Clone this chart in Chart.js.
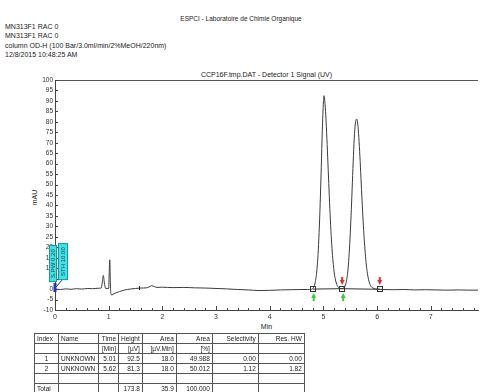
<!DOCTYPE html>
<html>
<head>
<meta charset="utf-8">
<script src="https://cdn.jsdelivr.net/npm/chart.js@4/dist/chart.umd.min.js"></script>
<style>
body { margin: 0; width: 482px; height: 392px; overflow: hidden; background: #fff; position: relative;
       font-family: "Liberation Sans", Arial, sans-serif; color: #222; }
.t { position: absolute; font-size: 7px; line-height: 7px; white-space: nowrap; }
#wrap { position: absolute; left: 0; top: 0; width: 482px; height: 335px; }
#peaks { position: absolute; left: 34px; top: 333px; border-collapse: collapse; table-layout: fixed;
         font-size: 6.5px; color: #222; }
#peaks td { border: 1px solid #555; height: 9px; padding: 0 2px; text-align: right; white-space: nowrap;
            line-height: 9px; overflow: hidden; }
#peaks td.l { text-align: left; }
#peaks td.c { text-align: center; }
</style>
</head>
<body>
<div class="t" style="left:0;width:482px;text-align:center;top:15px;font-size:6.5px">ESPCI - Laboratoire de Chimie Organique</div>
<div class="t" style="left:5px;top:23px">MN313F1 RAC 0</div>
<div class="t" style="left:5px;top:32px">MN313F1 RAC 0</div>
<div class="t" style="left:5px;top:42px">column OD-H (100 Bar/3.0ml/min/2%MeOH/220nm)</div>
<div class="t" style="left:5px;top:51px">12/8/2015 10:48:25 AM</div>
<div class="t" style="left:55px;width:423px;text-align:center;top:71px">CCP16F.tmp.DAT - Detector 1 Signal (UV)</div>
<div class="t" style="left:27px;top:194px;transform:rotate(-90deg)">mAU</div>
<div class="t" style="left:55px;width:423px;text-align:center;top:323px">Min</div>

<div id="wrap"><canvas id="chromChart"></canvas></div>
<table id="peaks"></table>

<script>
// signal (time in min, signal in mAU)
var timeMin = [0.00, 0.10, 0.20, 0.30, 0.40, 0.50, 0.60, 0.70, 0.80, 0.86, 0.88, 0.90, 0.92, 0.94,
    1.00, 1.01, 1.02, 1.03, 1.04, 1.06, 1.10, 1.20, 1.30, 1.40, 1.50, 1.60, 1.70, 1.75, 1.80, 1.85,
    1.90, 2.00, 2.20, 2.40, 2.60, 2.80, 3.00, 3.20, 3.40, 3.60, 3.80, 4.00, 4.20, 4.40, 4.60, 4.70,
    4.78, 4.80, 4.82, 4.84, 4.86, 4.88, 4.90, 4.92, 4.94, 4.96, 4.98, 5.00, 5.01, 5.02, 5.04, 5.06,
    5.08, 5.10, 5.12, 5.14, 5.16, 5.18, 5.20, 5.22, 5.24, 5.26, 5.28, 5.30, 5.32, 5.34, 5.36, 5.38,
    5.40, 5.42, 5.44, 5.46, 5.48, 5.50, 5.52, 5.54, 5.56, 5.58, 5.60, 5.62, 5.64, 5.66, 5.68, 5.70,
    5.72, 5.74, 5.76, 5.78, 5.80, 5.82, 5.84, 5.86, 5.88, 5.90, 5.94, 6.00, 6.10, 6.30, 6.50, 6.70,
    6.90, 7.10, 7.30, 7.50, 7.70, 7.88];
var signal = [0.0, -0.2, 0.1, -0.1, 0.2, 0.0, 0.3, 0.2, 0.4, 0.5, 3.0, 6.5, 3.0, 0.4,
    0.3, 8.0, 14.0, 4.0, -2.0, -2.8, -2.2, -1.2, -0.4, 0.0, 0.3, 0.5, 0.6, 1.0, 1.6, 1.2,
    0.8, 0.9, 0.7, 0.8, 0.6, 0.5, 0.3, 0.1, -0.2, -0.4, -0.7, -0.6, -0.4, -0.3, -0.2, -0.2,
    -0.1, 0.3, 1.0, 2.4, 5.0, 9.5, 16.5, 27.0, 41.0, 58.0, 76.0, 89.5, 92.5, 91.5, 85.0, 75.0,
    63.0, 50.5, 38.5, 28.0, 19.5, 13.0, 8.2, 5.0, 2.9, 1.6, 0.8, 0.4, 0.2, 0.2, 0.3, 0.6,
    1.3, 2.8, 5.5, 10.0, 17.0, 26.5, 38.0, 51.0, 64.0, 74.5, 80.0, 81.3, 79.0, 72.5, 63.5, 53.0,
    42.5, 32.5, 24.0, 17.0, 11.5, 7.5, 4.7, 2.8, 1.6, 0.9, 0.3, 0.0, -0.2, -0.3, -0.2, -0.4,
    -0.3, -0.4, -0.5, -0.4, -0.5, -0.5];

// peak start/valley/end marks and baseline level there
var markTime = [4.80, 5.35, 6.05];
var markLevel = [0.0, 0.2, -0.1];
var startMarks = [4.80, 5.35];   // green
var endMarks = [5.35, 6.05];     // red
var eventMarks = [1.57];

var xTickLabels = ['0', '1', '2', '3', '4', '5', '6', '7'];
var yTickLabels = ['-10', '-5', '0', '5', '10', '15', '20', '25', '30', '35', '40', '45', '50', '55',
    '60', '65', '70', '75', '80', '85', '90', '95', '100'];

// peak table
var tableHead = ['Index', 'Name', 'Time', 'Height', 'Area', 'Area', 'Selectivity', 'Res. HW'];
var tableUnits = ['', '', '[Min]', '[µV]', '[µV.Min]', '[%]', '', ''];
var peakIndex = ['1', '2'];
var peakName = ['UNKNOWN', 'UNKNOWN'];
var peakTime = ['5.01', '5.62'];
var peakHeight = ['92.5', '81.3'];
var peakArea = ['18.0', '18.0'];
var peakAreaPct = ['49.988', '50.012'];
var peakSel = ['0.00', '1.12'];
var peakResHW = ['0.00', '1.82'];
var totalRow = ['Total', '', '', '173.8', '35.9', '100.000', '', ''];
var colWidths = [24, 40, 20, 22, 34, 36, 46, 46];

function buildTable() {
    var tbl = document.getElementById('peaks');
    var rows = [tableHead, tableUnits];
    for (var i = 0; i < peakIndex.length; i++) {
        rows.push([peakIndex[i], peakName[i], peakTime[i], peakHeight[i], peakArea[i],
            peakAreaPct[i], peakSel[i], peakResHW[i]]);
    }
    rows.push(['', '', '', '', '', '', '', '']);
    rows.push(totalRow);
    rows.forEach(function (r, ri) {
        var tr = document.createElement('tr');
        r.forEach(function (cell, ci) {
            var td = document.createElement('td');
            td.textContent = cell;
            td.style.width = (colWidths[ci] - 5) + 'px';
            if (ci === 1 || (ri === 0 && ci === 0) || (ci === 0 && cell === 'Total')) td.className = 'l';
            else if (ci === 0) td.className = 'c';
            tr.appendChild(td);
        });
        tbl.appendChild(tr);
    });
}

var decorPlugin = {
    id: 'decor',
    afterDatasetsDraw: function (chart) {
        var ctx = chart.ctx, xs = chart.scales.x, ys = chart.scales.y, a = chart.chartArea;
        ctx.save();
        ctx.lineWidth = 1;
        ctx.strokeStyle = '#555';
        ctx.beginPath();
        ctx.moveTo(a.left, a.top + 0.5);
        ctx.lineTo(a.right, a.top + 0.5);
        ctx.stroke();

        // inward tick marks
        ctx.strokeStyle = '#444';
        ctx.beginPath();
        for (var i = 0; i < yTickLabels.length; i++) {
            var py = Math.round(ys.getPixelForValue(Number(yTickLabels[i]))) + 0.5;
            ctx.moveTo(a.left, py);
            ctx.lineTo(a.left + 3, py);
        }
        for (var k = 0; k <= 39; k++) {
            var px = Math.round(xs.getPixelForValue(k / 5)) + 0.5;
            ctx.moveTo(px, a.bottom);
            ctx.lineTo(px, a.bottom - (k % 5 === 0 ? 4 : 2));
        }
        ctx.stroke();

        // integration baseline and marks
        ctx.strokeStyle = '#333';
        ctx.beginPath();
        markTime.forEach(function (t, j) {
            var x = xs.getPixelForValue(t), y = ys.getPixelForValue(markLevel[j]);
            if (j === 0) ctx.moveTo(x, y); else ctx.lineTo(x, y);
        });
        ctx.stroke();
        markTime.forEach(function (t, j) {
            var x = Math.round(xs.getPixelForValue(t)), y = Math.round(ys.getPixelForValue(markLevel[j]));
            ctx.strokeRect(x - 2.5, y - 2.5, 5, 5);
        });
        var z = ys.getPixelForValue(0);
        ctx.fillStyle = '#3cc83c';
        startMarks.forEach(function (t) {
            var x = xs.getPixelForValue(t) + 1;
            ctx.beginPath();
            ctx.moveTo(x, z + 4);
            ctx.lineTo(x + 2.5, z + 9);
            ctx.lineTo(x - 2.5, z + 9);
            ctx.closePath();
            ctx.fill();
            ctx.fillRect(x - 1, z + 9, 2, 3);
        });
        ctx.fillStyle = '#d83030';
        endMarks.forEach(function (t) {
            var x = xs.getPixelForValue(t);
            ctx.beginPath();
            ctx.moveTo(x, z - 4);
            ctx.lineTo(x + 2.5, z - 9);
            ctx.lineTo(x - 2.5, z - 9);
            ctx.closePath();
            ctx.fill();
            ctx.fillRect(x - 1, z - 12, 2, 3);
        });
        ctx.strokeStyle = '#222';
        eventMarks.forEach(function (t) {
            var x = Math.round(xs.getPixelForValue(t)) + 0.5;
            ctx.beginPath();
            ctx.moveTo(x, z - 3);
            ctx.lineTo(x, z + 1);
            ctx.stroke();
        });

        // timed events at t = 0
        var p0 = xs.getPixelForValue(0);
        ctx.strokeStyle = '#333';
        ctx.beginPath();
        ctx.moveTo(p0 + 7, z - 9);
        ctx.lineTo(p0 + 1, z - 2);
        ctx.stroke();
        var boxes = [{ dx: -6, w: 8, top: -44, h: 37, txt: 'S.PW 0.20' },
                     { dx: 3, w: 10, top: -46, h: 37, txt: 'STH 10.00' }];
        boxes.forEach(function (b) {
            ctx.fillStyle = '#42e2e6';
            ctx.fillRect(p0 + b.dx, z + b.top, b.w, b.h);
            ctx.strokeStyle = '#129aa0';
            ctx.strokeRect(p0 + b.dx + 0.5, z + b.top + 0.5, b.w - 1, b.h - 1);
            ctx.save();
            ctx.translate(p0 + b.dx + b.w / 2, z + b.top + b.h / 2);
            ctx.rotate(-Math.PI / 2);
            ctx.fillStyle = '#1a3a50';
            ctx.font = '6px "Liberation Sans", Arial, sans-serif';
            ctx.textAlign = 'center';
            ctx.textBaseline = 'middle';
            ctx.fillText(b.txt, 0, 0);
            ctx.restore();
        });
        ctx.strokeStyle = '#2233cc';
        ctx.lineWidth = 3;
        ctx.beginPath();
        ctx.moveTo(p0, z - 6);
        ctx.lineTo(p0, z + 3);
        ctx.stroke();
        ctx.restore();
    }
};

function createChart() {
    var ctx = document.getElementById('chromChart').getContext('2d');
    var pts = timeMin.map(function (t, i) { return { x: t, y: signal[i] }; });
    new Chart(ctx, {
        type: 'line',
        data: {
            datasets: [{
                data: pts,
                borderColor: '#3a3a3a',
                borderWidth: 1,
                pointRadius: 0,
                cubicInterpolationMode: 'monotone'
            }]
        },
        options: {
            responsive: true,
            maintainAspectRatio: false,
            animation: false,
            layout: { padding: { top: 80, right: 4, left: 0, bottom: 0 } },
            plugins: { legend: { display: false }, tooltip: { enabled: false } },
            scales: {
                x: {
                    type: 'linear', min: 0, max: 7.88,
                    grid: { display: false, drawTicks: false },
                    border: { color: '#444' },
                    afterFit: function (s) { s.height = 25; },
                    afterBuildTicks: function (s) {
                        s.ticks = xTickLabels.map(function (l) { return { value: Number(l) }; });
                    },
                    ticks: {
                        padding: 3, color: '#333', maxRotation: 0,
                        font: { size: 7, family: '"Liberation Sans", Arial' },
                        callback: function (v) { return String(v); }
                    }
                },
                y: {
                    min: -10, max: 100,
                    grid: { display: false, drawTicks: false },
                    border: { color: '#444' },
                    afterFit: function (s) { s.width = 55; },
                    afterBuildTicks: function (s) {
                        s.ticks = yTickLabels.map(function (l) { return { value: Number(l) }; });
                    },
                    ticks: {
                        padding: 2, color: '#333', autoSkip: false,
                        font: { size: 6.5, family: '"Liberation Sans", Arial' },
                        callback: function (v) { return String(v); }
                    }
                }
            }
        },
        plugins: [decorPlugin]
    });
}

buildTable();
createChart();
</script>
</body>
</html>
